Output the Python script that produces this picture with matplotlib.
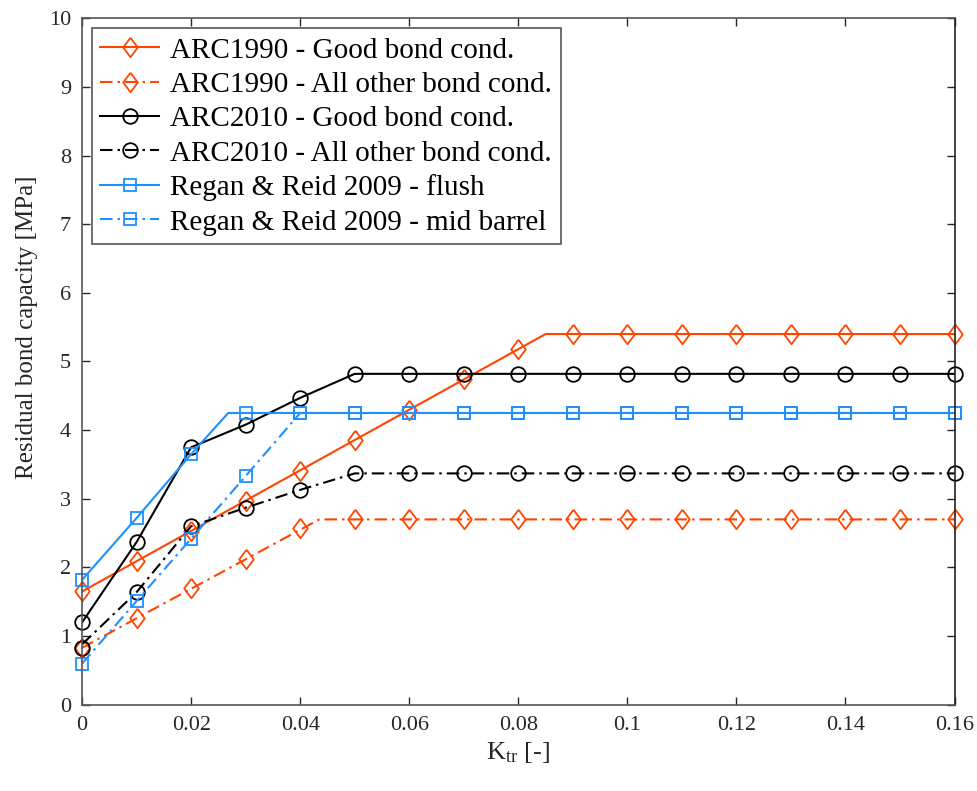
import numpy as np
import matplotlib
matplotlib.use("Agg")
import matplotlib.pyplot as plt
from matplotlib.lines import Line2D

plt.rcParams['font.family'] = ['Liberation Serif', 'DejaVu Serif']
plt.rcParams['mathtext.fontset'] = 'custom'
plt.rcParams['mathtext.rm'] = 'Liberation Serif'
plt.rcParams['mathtext.it'] = 'Liberation Serif:italic'

# marker positions (K_tr)
x_markers = [0, 0.01, 0.02, 0.03, 0.04, 0.05, 0.06, 0.07, 0.08,
             0.09, 0.10, 0.11, 0.12, 0.13, 0.14, 0.15, 0.16]

# values at markers [MPa]
arc1990_good = [1.65, 2.09, 2.53, 2.97, 3.41, 3.86, 4.30, 4.74, 5.18,
                5.40, 5.40, 5.40, 5.40, 5.40, 5.40, 5.40, 5.40]
arc1990_other = [0.83, 1.26, 1.70, 2.13, 2.57, 2.70, 2.70, 2.70, 2.70,
                 2.70, 2.70, 2.70, 2.70, 2.70, 2.70, 2.70, 2.70]
arc2010_good = [1.20, 2.37, 3.75, 4.08, 4.47, 4.82, 4.82, 4.82, 4.82,
                4.82, 4.82, 4.82, 4.82, 4.82, 4.82, 4.82, 4.82]
arc2010_other = [0.83, 1.64, 2.60, 2.87, 3.13, 3.37, 3.37, 3.37, 3.37,
                 3.37, 3.37, 3.37, 3.37, 3.37, 3.37, 3.37, 3.37]
regan_flush = [1.82, 2.72, 3.65, 4.25, 4.25, 4.25, 4.25, 4.25, 4.25,
               4.25, 4.25, 4.25, 4.25, 4.25, 4.25, 4.25, 4.25]
regan_mid = [0.60, 1.51, 2.42, 3.33, 4.25, 4.25, 4.25, 4.25, 4.25,
             4.25, 4.25, 4.25, 4.25, 4.25, 4.25, 4.25, 4.25]

# line vertices (kinks don't always fall on a marker)
arc1990_good_lx = [0, 0.085, 0.16]
arc1990_good_ly = [1.65, 5.40, 5.40]
arc1990_other_lx = [0, 0.0435, 0.16]
arc1990_other_ly = [0.83, 2.70, 2.70]
arc2010_good_lx = [0, 0.01, 0.02, 0.03, 0.04, 0.05, 0.16]
arc2010_good_ly = [1.20, 2.37, 3.75, 4.08, 4.47, 4.82, 4.82]
arc2010_other_lx = [0, 0.01, 0.02, 0.03, 0.04, 0.05, 0.16]
arc2010_other_ly = [0.88, 1.64, 2.60, 2.87, 3.13, 3.37, 3.37]
regan_flush_lx = [0, 0.01, 0.02, 0.0268, 0.16]
regan_flush_ly = [1.82, 2.72, 3.65, 4.25, 4.25]
regan_mid_lx = [0, 0.01, 0.02, 0.03, 0.04, 0.16]
regan_mid_ly = [0.60, 1.51, 2.42, 3.33, 4.25, 4.25]

labels = ["ARC1990 - Good bond cond.",
          "ARC1990 - All other bond cond.",
          "ARC2010 - Good bond cond.",
          "ARC2010 - All other bond cond.",
          "Regan & Reid 2009 - flush",
          "Regan & Reid 2009 - mid barrel"]

xticks = [0, 0.02, 0.04, 0.06, 0.08, 0.10, 0.12, 0.14, 0.16]
xticklabels = ["0", "0.02", "0.04", "0.06", "0.08", "0.1", "0.12", "0.14", "0.16"]
yticks = [0, 1, 2, 3, 4, 5, 6, 7, 8, 9, 10]

orange = '#ff4500'
blue = '#1e90ff'
black = '#000000'
diamond = [(0, 1), (0.75, 0), (0, -1), (-0.75, 0), (0, 1)]
dashdot = (0, (6, 2.4, 1.2, 2.4))

series = [
    (arc1990_good_lx, arc1990_good_ly, arc1990_good, orange, '-', diamond, 14),
    (arc1990_other_lx, arc1990_other_ly, arc1990_other, orange, dashdot, diamond, 14),
    (arc2010_good_lx, arc2010_good_ly, arc2010_good, black, '-', 'o', 10.5),
    (arc2010_other_lx, arc2010_other_ly, arc2010_other, black, dashdot, 'o', 10.5),
    (regan_flush_lx, regan_flush_ly, regan_flush, blue, '-', 's', 9),
    (regan_mid_lx, regan_mid_ly, regan_mid, blue, dashdot, 's', 9),
]

fig = plt.figure(figsize=(9.77, 7.91), dpi=100)
ax = fig.add_axes([0.084, 0.109, 0.893, 0.868])

handles = []
for (lx, ly, my, col, ls, mk, ms), lab in zip(series, labels):
    ax.plot(lx, ly, color=col, linestyle=ls, linewidth=1.5)
    ax.plot(x_markers, my, linestyle='none', marker=mk, markersize=ms,
            markerfacecolor='none', markeredgecolor=col, markeredgewidth=1.3,
            clip_on=False)
    handles.append(Line2D([], [], color=col, linestyle=ls, linewidth=1.5,
                          marker=mk, markersize=ms, markerfacecolor='none',
                          markeredgecolor=col, markeredgewidth=1.3))

ax.set_xlim(0, 0.16)
ax.set_ylim(0, 10)
ax.set_xticks(xticks)
ax.set_xticklabels(xticklabels)
ax.set_yticks(yticks)
ax.tick_params(direction='in', top=True, right=True, length=6, width=1,
               labelsize=16, colors='#262626', pad=8)
for sp in ax.spines.values():
    sp.set_color('#555555')
    sp.set_linewidth(1.2)
ax.spines['right'].set_color('#222222')

ax.set_xlabel(r'K$_{\mathrm{tr}}$ [-]', fontsize=19, color='#262626')
ax.set_ylabel('Residual bond capacity [MPa]', fontsize=18, color='#262626')
ax.yaxis.set_label_coords(-0.05, 0.55)

leg = ax.legend(handles, labels, loc='upper left', bbox_to_anchor=(0.011, 0.985),
                borderaxespad=0, fontsize=21, fancybox=False, framealpha=1,
                edgecolor='#555555', handlelength=2.0, labelspacing=0.27,
                handletextpad=0.4, borderpad=0.3)
leg.get_frame().set_linewidth(1.2)

fig.savefig('out.png', dpi=100)
